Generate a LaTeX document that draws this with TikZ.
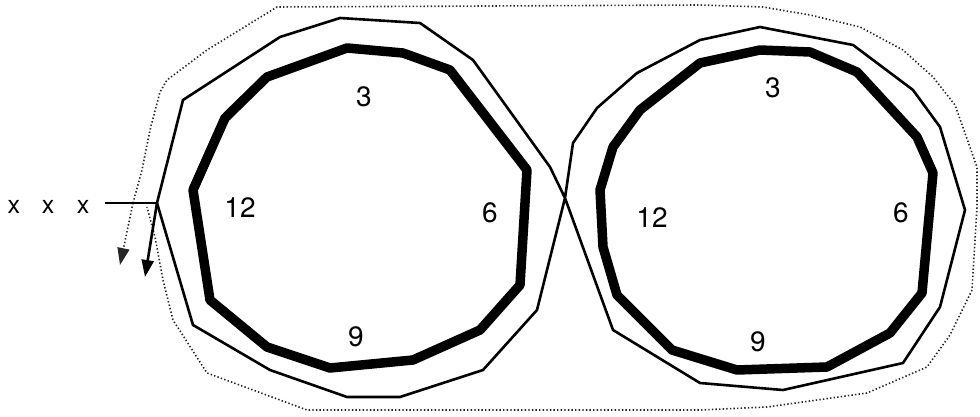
\documentclass[tikz,border=0pt]{standalone}
\usepackage{fontspec}
\setmainfont{TeX Gyre Heros}
\usetikzlibrary{arrows.meta}
\begin{document}
\begin{tikzpicture}[x=1pt,y=-1pt,
  ring/.style={line width=9.5pt,line join=round},
  wire/.style={line width=2.6pt,line join=miter},
  outline/.style={line width=1.6pt,black!85,dash pattern=on 1.4pt off 2.2pt},
  lbl/.style={font=\fontsize{28}{28}\selectfont,inner sep=0pt},
  xlbl/.style={font=\fontsize{25}{25}\selectfont,inner sep=0pt},
  tipA/.style={-{Triangle[length=17pt,width=12pt]}}]
\useasboundingbox (0,0) rectangle (980,417);
% thick rings
\draw[ring] (347,48) -- (403,53) -- (450,70) -- (527,170) -- (520,285) -- (480,330) -- (413,360) -- (330,368) -- (267,347) -- (210,300) -- (193,190) -- (225,118) -- (267,77) -- cycle;
\draw[ring] (760,50) -- (810,52) -- (857,72) -- (917,137) -- (933,173) -- (922,293) -- (890,333) -- (827,367) -- (737,370) -- (672,350) -- (617,295) -- (603,247) -- (600,190) -- (613,147) -- (640,110) -- (700,63) -- cycle;
% thin figure-eight wire
\coordinate (corner) at (157,203);
\draw[wire] (corner) -- (183,100) -- (280,37) -- (340,18) -- (420,23) -- (473,60) -- (550,167) -- (565,198) -- (613,330) -- (700,383) -- (783,390) -- (903,363) -- (940,307) -- (965,210) -- (940,127) -- (913,90) -- (853,45) -- (760,27) -- (700,40) -- (637,73) -- (597,108) -- (573,143) -- (565,198) -- (537,310) -- (483,370) -- (400,397) -- (347,397) -- (270,370) -- (193,325) -- cycle;
% dotted outline
\coordinate (dstart) at (133,203);
\coordinate (dtip) at (120,265);
\coordinate (dend) at (147,207);
\draw[outline] (dstart) -- (142,170) -- (150,130) -- (160,92) -- (167,80) -- (207,50) -- (277,7) -- (700,5) -- (763,7) -- (810,15) -- (860,27) -- (903,50) -- (933,77) -- (955,105) -- (977,167) -- (977,207) -- (972,290) -- (950,335) -- (927,367) -- (867,393) -- (767,407) -- (700,410) -- (307,410) -- (207,373) -- (173,320) -- (163,280) -- (155,237) -- (dend);
\draw[outline,tipA] (dstart) -- (dtip);
% feed line and arrow
\coordinate (feed) at (105,203);
\coordinate (stip) at (145,277);
\draw[line width=2.6pt] (feed) -- (corner);
\draw[line width=2.6pt,tipA] (corner) -- (stip);
% labels
\node[xlbl] (x1) at (14,207) {x};
\node[xlbl] (x2) at (48,207) {x};
\node[xlbl] (x3) at (83,207) {x};
\node[lbl] (l3) at (364,97) {3};
\node[lbl] (l12) at (240,208) {12};
\node[lbl] (l6) at (490,213) {6};
\node[lbl] (l9) at (356,337) {9};
\node[lbl] (r3) at (773,88) {3};
\node[lbl] (r12) at (652,218) {12};
\node[lbl] (r6) at (901,213) {6};
\node[lbl] (r9) at (758,342) {9};
\end{tikzpicture}
\end{document}
